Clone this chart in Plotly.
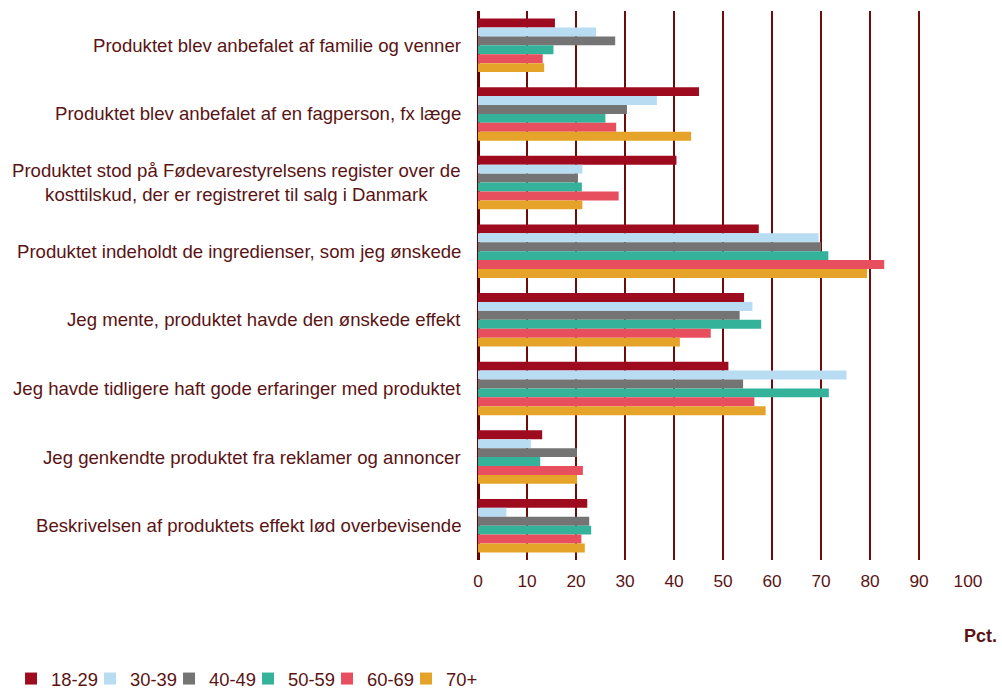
import plotly.graph_objects as go

# Udsagn (kategorier) og aldersgrupper
categories = [
    "Produktet blev anbefalet af familie og venner",
    "Produktet blev anbefalet af en fagperson, fx læge",
    "Produktet stod på Fødevarestyrelsens register over de<br>kosttilskud, der er registreret til salg i Danmark",
    "Produktet indeholdt de ingredienser, som jeg ønskede",
    "Jeg mente, produktet havde den ønskede effekt",
    "Jeg havde tidligere haft gode erfaringer med produktet",
    "Jeg genkendte produktet fra reklamer og annoncer",
    "Beskrivelsen af produktets effekt lød overbevisende",
]
age_groups = ["18-29", "30-39", "40-49", "50-59", "60-69", "70+"]

v_18_29 = [15.7, 45.1, 40.5, 57.3, 54.3, 51.1, 13.1, 22.3]
v_30_39 = [24.1, 36.5, 21.3, 69.5, 56.0, 75.2, 10.8, 5.8]
v_40_49 = [28.0, 30.4, 20.4, 70.0, 53.4, 54.1, 20.2, 22.7]
v_50_59 = [15.4, 26.0, 21.2, 71.5, 57.8, 71.6, 12.7, 23.1]
v_60_69 = [13.2, 28.2, 28.7, 82.9, 47.5, 56.4, 21.4, 21.1]
v_70_plus = [13.5, 43.5, 21.3, 79.4, 41.2, 58.7, 20.2, 21.8]

x_ticks = [0, 10, 20, 30, 40, 50, 60, 70, 80, 90, 100]

series = [v_18_29, v_30_39, v_40_49, v_50_59, v_60_69, v_70_plus]
colors = ["#9e0b1f", "#b8dcf2", "#747474", "#35b39a", "#e84f5e", "#e6a32a"]

TEXT = "#5a1414"
GRID = "#6e0c0c"
FONT = "Liberation Sans, Arial, sans-serif"

fig = go.Figure()
for name, vals, col in zip(age_groups, series, colors):
    fig.add_trace(go.Bar(
        y=categories, x=vals, name=name, orientation="h",
        marker=dict(color=col, line=dict(width=0)),
    ))

# Kategoritekster som annotationer (centreret ved flere linjer)
for cat in categories:
    fig.add_annotation(
        x=0, xref="paper", y=cat, yref="y",
        text=cat, showarrow=False, xanchor="right", align="center",
        xshift=-15, font=dict(size=18.6, color=TEXT, family=FONT),
    )

fig.add_annotation(
    x=1, xref="paper", y=-0.138, yref="paper", text="<b>Pct.</b>",
    showarrow=False, xanchor="right", yanchor="middle", xshift=31,
    font=dict(size=18, color=TEXT, family=FONT),
)

fig.update_layout(
    width=1002, height=690,
    margin=dict(l=478, r=34, t=11, b=130, autoexpand=False),
    barmode="group", bargap=0.22, bargroupgap=0,
    paper_bgcolor="white", plot_bgcolor="white",
    font=dict(family=FONT, size=18, color=TEXT),
    legend=dict(
        orientation="h", xref="paper", yref="paper",
        x=-0.953, xanchor="left", y=-0.216, yanchor="middle",
        font=dict(size=18.4, color=TEXT), traceorder="normal",
        itemwidth=30, tracegroupgap=0,
        entrywidth=34, entrywidthmode="pixels",
    ),
)
fig.update_xaxes(
    range=[0, 100], tickvals=x_ticks, showgrid=True, gridcolor=GRID, gridwidth=2,
    zeroline=True, zerolinecolor="#6b0000", zerolinewidth=3,
    ticks="", ticklabelstandoff=9, tickfont=dict(size=17.3, color=TEXT),
    showline=False, automargin=False,
)
fig.update_yaxes(
    autorange="reversed", showticklabels=False, showgrid=False, ticks="",
    showline=False, automargin=False,
)

fig.write_html("out.html", config={"displayModeBar": False},
               post_script="document.body.style.margin='0';")
